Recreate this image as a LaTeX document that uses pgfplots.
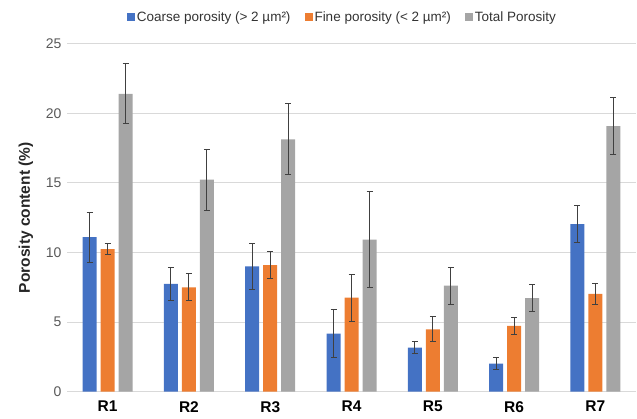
\documentclass[border=0pt]{standalone}
\usepackage{pgfplots}
\pgfplotsset{compat=1.18}
\usepackage{pgfplotstable}
\usepackage{fontspec}
\setmainfont{Liberation Sans}
\definecolor{cblue}{HTML}{4472C4}
\definecolor{corange}{HTML}{ED7D31}
\definecolor{cgray}{HTML}{A5A5A5}
\definecolor{gridc}{HTML}{D9D9D9}
\definecolor{tickc}{HTML}{595959}
\definecolor{errc}{HTML}{404040}
\pgfplotstableread{
x y e
0 11.10 1.80
1 7.74 1.20
2 9.00 1.63
3 4.17 1.70
4 3.16 0.44
5 2.01 0.43
6 12.03 1.33
}\coarse
\pgfplotstableread{
x y e
0 10.25 0.40
1 7.50 0.97
2 9.10 0.95
3 6.75 1.70
4 4.48 0.89
5 4.72 0.58
6 7.02 0.73
}\fine
\pgfplotstableread{
x y e
0 21.40 2.15
1 15.23 2.18
2 18.13 2.54
3 10.92 3.43
4 7.62 1.32
5 6.73 0.96
6 19.07 2.05
}\total
\begin{document}
\begin{tikzpicture}
\useasboundingbox (-67bp,-27.3bp) rectangle (570bp,391.7bp);
\begin{axis}[
  scale only axis,
  width=569bp, height=348bp,
  at={(0,0)}, anchor=south west,
  ybar=4bp, bar width=14bp,
  xmin=-0.5, xmax=6.5,
  ymin=0, ymax=25,
  ytick={0,5,...,25},
  xtick={0,...,6},
  xticklabels={R1,R2,R3,R4,R5,R6,R7},
  x tick label style={font=\fontsize{15.5bp}{18bp}\selectfont\bfseries, text=black, yshift=-6bp},
  y tick label style={font=\fontsize{14bp}{16bp}\selectfont, text=tickc},
  /pgf/number format/assume math mode=true,
  yticklabel style={xshift=-2bp},
  ylabel={Porosity content (\%)},
  ylabel style={font=\fontsize{15.5bp}{18bp}\selectfont\bfseries, text=black!85},
  every axis y label/.append style={at={(ticklabel cs:0.5)}, yshift=6bp},
  axis x line*=bottom,
  axis y line*=left,
  y axis line style={draw=none},
  x axis line style={gridc, line width=0.8bp},
  major tick length=0pt,
  ymajorgrids,
  grid style={gridc, line width=0.8bp},
  error bars/y dir=both,
  error bars/y explicit,
  error bars/error bar style={errc, line width=1bp},
  error bars/error mark options={rotate=90, errc, mark size=3bp, line width=1bp},
  legend columns=3,
  legend style={draw=none, fill=none, at={(0.484,1.077)}, anchor=center,
    font=\fontsize{13.5bp}{16bp}\selectfont, text=black!80,
    /tikz/column 2/.style={column sep=12bp},
    /tikz/column 4/.style={column sep=12bp}},
  legend image code/.code={\fill[#1] (2bp,-4bp) rectangle (10bp,4bp);},
]
\addplot[fill=cblue, draw=none] table[x=x, y=y, y error=e] {\coarse};
\addplot[fill=corange, draw=none] table[x=x, y=y, y error=e] {\fine};
\addplot[fill=cgray, draw=none] table[x=x, y=y, y error=e] {\total};
\legend{Coarse porosity (> 2 µm²), Fine porosity (< 2 µm²), Total Porosity}
\end{axis}
\end{tikzpicture}
\end{document}
